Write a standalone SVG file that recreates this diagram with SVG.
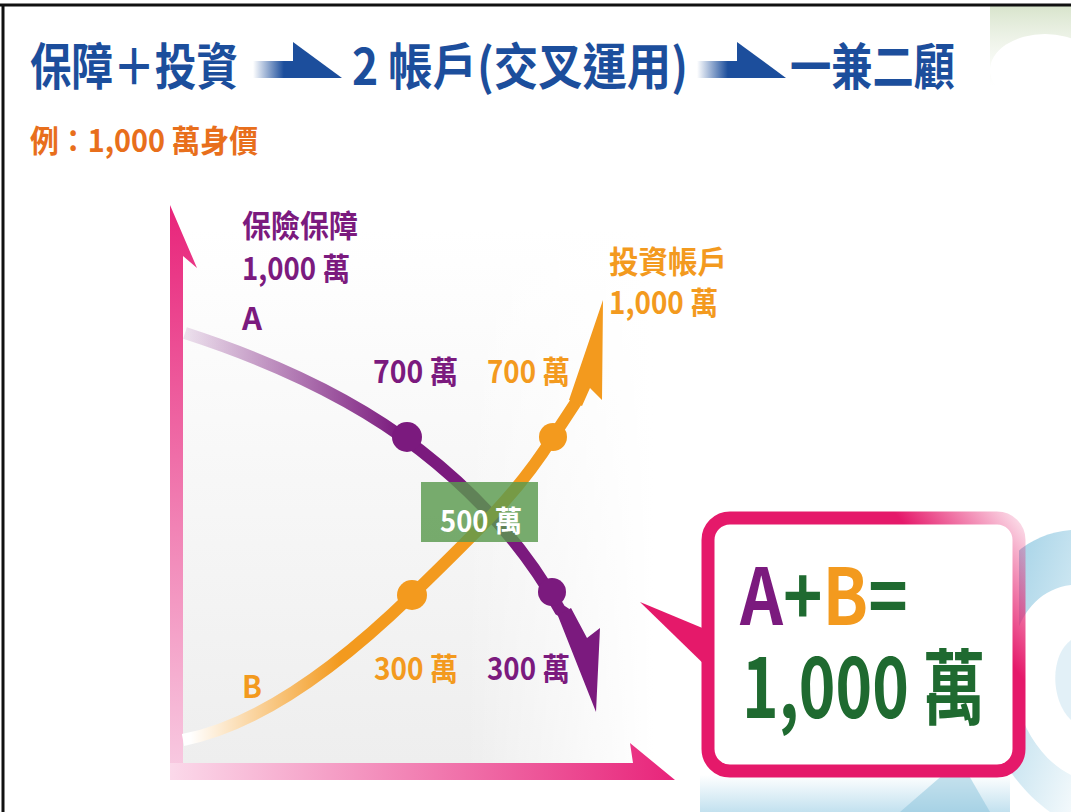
<svg xmlns="http://www.w3.org/2000/svg" width="1071" height="812" viewBox="0 0 1071 812">
<defs>
<style>
text{font-family:"Noto Sans CJK TC","Noto Sans CJK SC",sans-serif;font-weight:bold}
.title{fill:#1c4e9c;font-size:50px}
.pur{fill:#7b1a7e}
.org{fill:#f39a1e}
.lbl{font-size:31px}
.grn{fill:#1f6a30}
</style>
<linearGradient id="barFade" x1="0" y1="0" x2="1" y2="0">
<stop offset="0" stop-color="#1c4e9c" stop-opacity="0"/>
<stop offset="0.7" stop-color="#1c4e9c"/>
</linearGradient>
<linearGradient id="vAxis" x1="0" y1="0" x2="0" y2="1">
<stop offset="0" stop-color="#e8247a"/>
<stop offset="1" stop-color="#f8cde3"/>
</linearGradient>
<linearGradient id="hAxis" x1="0" y1="0" x2="1" y2="0">
<stop offset="0" stop-color="#fbd9ea"/>
<stop offset="1" stop-color="#e8247a"/>
</linearGradient>
<linearGradient id="purFade" gradientUnits="userSpaceOnUse" x1="185" y1="0" x2="400" y2="0">
<stop offset="0" stop-color="#7b1a7e" stop-opacity="0.12"/>
<stop offset="1" stop-color="#7b1a7e"/>
</linearGradient>
<linearGradient id="orgFade" gradientUnits="userSpaceOnUse" x1="190" y1="0" x2="340" y2="0">
<stop offset="0" stop-color="#ffffff"/>
<stop offset="1" stop-color="#f39a1e"/>
</linearGradient>
<linearGradient id="callStroke" gradientUnits="userSpaceOnUse" x1="900" y1="600" x2="1030" y2="500">
<stop offset="0.3" stop-color="#e5196a"/>
<stop offset="0.95" stop-color="#e5196a" stop-opacity="0.05"/>
</linearGradient>
<linearGradient id="chartBg" x1="0" y1="0" x2="0" y2="1">
<stop offset="0" stop-color="#ffffff"/>
<stop offset="1" stop-color="#eeeeee"/>
</linearGradient>
<linearGradient id="chartBgH" x1="0" y1="0" x2="1" y2="0">
<stop offset="0.6" stop-color="#ffffff" stop-opacity="0"/>
<stop offset="1" stop-color="#ffffff"/>
</linearGradient>
<linearGradient id="blueFade" x1="0" y1="0" x2="1" y2="1">
<stop offset="0" stop-color="#5aaed3" stop-opacity="0.9"/>
<stop offset="1" stop-color="#5aaed3" stop-opacity="0.1"/>
</linearGradient>
<linearGradient id="blueBottom" x1="0" y1="0" x2="0" y2="1">
<stop offset="0" stop-color="#a8d4e8" stop-opacity="0"/>
<stop offset="1" stop-color="#a8d4e8" stop-opacity="0.7"/>
</linearGradient>
<linearGradient id="greenFade" x1="0" y1="0" x2="0" y2="1">
<stop offset="0" stop-color="#d8e4cc"/>
<stop offset="1" stop-color="#eef3e8" stop-opacity="0"/>
</linearGradient>
</defs>

<rect x="0" y="0" width="1071" height="812" fill="#ffffff"/>

<!-- background decorations -->
<g id="decor">
<rect x="990" y="6" width="81" height="80" fill="url(#greenFade)"/>
<ellipse cx="1045" cy="70" rx="55" ry="36" fill="#ffffff"/>
<path d="M1071,530 C1010,535 975,590 975,660 C975,720 1005,780 1050,812 L1071,812 Z" fill="url(#blueFade)" opacity="0.75"/>
<path d="M1071,585 C1030,590 1010,630 1012,670 C1014,720 1040,760 1071,775 Z" fill="#ffffff"/>
<path d="M1071,640 C1050,655 1050,700 1071,720 Z" fill="#cfe6f1" opacity="0.6"/>
<rect x="700" y="775" width="310" height="37" fill="url(#blueBottom)"/>
<path d="M900,812 L960,760 L990,812 Z" fill="#8cc3dc" opacity="0.5"/>
</g>

<!-- frame -->
<g id="frame" stroke="#111111" stroke-width="3" fill="none">
<line x1="0" y1="5" x2="1071" y2="5"/>
<line x1="3" y1="5" x2="3" y2="812"/>
</g>

<!-- header -->
<g id="header">
<text class="title" x="30" y="85" textLength="208" lengthAdjust="spacingAndGlyphs">保障＋投資</text>
<g id="arrow1">
<rect x="253" y="61" width="44" height="17" fill="url(#barFade)"/>
<polygon points="293,42 342,78 293,78" fill="#1c4e9c"/>
</g>
<text class="title" x="352" y="85" textLength="336" lengthAdjust="spacingAndGlyphs">2 帳戶(交叉運用)</text>
<g id="arrow2">
<rect x="697" y="61" width="44" height="17" fill="url(#barFade)"/>
<polygon points="737,42 786,78 737,78" fill="#1c4e9c"/>
</g>
<text class="title" x="790" y="85" textLength="165" lengthAdjust="spacingAndGlyphs">一兼二顧</text>
<text x="30" y="152" font-size="31" fill="#e86f1c" textLength="228" lengthAdjust="spacingAndGlyphs">例：1,000 萬身價</text>
</g>

<!-- chart background -->
<rect x="183" y="230" width="470" height="533" fill="url(#chartBg)"/>
<rect x="183" y="230" width="470" height="533" fill="url(#chartBgH)"/>

<!-- axes -->
<g id="axes">
<polygon id="y-axis" points="170,205 197,268 183,256 183,780 170,780" fill="url(#vAxis)"/>
<polygon id="x-axis" points="170,763 633,763 630,743 675,780 170,780" fill="url(#hAxis)"/>
</g>

<!-- connectors: curves -->
<g id="connectors">
<g id="curve-A">
<path d="M185,333 Q330,380 420,450 T560,610 L566,614" fill="none" stroke="url(#purFade)" stroke-width="12"/>
<polygon points="558,616 571,608 587,638 600,628 596,712" fill="#7b1a7e"/>
</g>
<g id="curve-B">
<path d="M183,740 C260,725 340,665 412,595 S520,490 553,437 L576,402" fill="none" stroke="url(#orgFade)" stroke-width="12"/>
<polygon points="569,400 603,300 602,400 590,388 582,406" fill="#f39a1e"/>
</g>
</g>

<!-- dots -->
<g id="dot-A1"><circle cx="407" cy="437" r="15" fill="#7b1a7e"/></g>
<g id="dot-A2"><circle cx="552" cy="592" r="14" fill="#7b1a7e"/></g>
<g id="dot-B1"><circle cx="553" cy="437" r="14" fill="#f39a1e"/></g>
<g id="dot-B2"><circle cx="412" cy="595" r="15" fill="#f39a1e"/></g>

<!-- 500 box -->
<g id="mid-box">
<rect x="421" y="482" width="117" height="60" fill="#5a9a4e" opacity="0.82"/>
<text x="440" y="532" font-size="29" fill="#ffffff" textLength="82" lengthAdjust="spacingAndGlyphs">500 萬</text>
</g>

<!-- labels -->
<g id="label-A-top">
<text class="pur lbl" x="242" y="237" textLength="116" lengthAdjust="spacingAndGlyphs">保險保障</text>
<text class="pur lbl" x="242" y="280" textLength="108" lengthAdjust="spacingAndGlyphs">1,000 萬</text>
<text class="pur lbl" x="242" y="330" textLength="20" lengthAdjust="spacingAndGlyphs">A</text>
</g>
<g id="label-B-top">
<text class="org lbl" x="609" y="273" textLength="118" lengthAdjust="spacingAndGlyphs">投資帳戶</text>
<text class="org lbl" x="609" y="314" textLength="109" lengthAdjust="spacingAndGlyphs">1,000 萬</text>
</g>
<g id="label-700">
<text class="pur lbl" x="373" y="383" textLength="85" lengthAdjust="spacingAndGlyphs">700 萬</text>
<text class="org lbl" x="487" y="383" textLength="83" lengthAdjust="spacingAndGlyphs">700 萬</text>
</g>
<g id="label-300">
<text class="org lbl" x="374" y="680" textLength="84" lengthAdjust="spacingAndGlyphs">300 萬</text>
<text class="pur lbl" x="487" y="680" textLength="83" lengthAdjust="spacingAndGlyphs">300 萬</text>
</g>
<g id="label-B">
<text class="org lbl" x="242" y="698" textLength="20" lengthAdjust="spacingAndGlyphs">B</text>
</g>

<!-- callout -->
<g id="callout">
<polygon points="640,602 712,632 712,672" fill="#e5196a"/>
<rect x="708" y="518" width="311" height="253" rx="22" ry="22" fill="#ffffff" stroke="url(#callStroke)" stroke-width="13"/>
<text transform="translate(740,625) scale(0.86,1)" x="0" y="0" font-size="78"><tspan class="pur">A</tspan><tspan class="grn">+</tspan><tspan class="org">B</tspan><tspan class="grn">=</tspan></text>
<text class="grn" x="742" y="718" font-size="82" textLength="243" lengthAdjust="spacingAndGlyphs">1,000 萬</text>
</g>
</svg>
